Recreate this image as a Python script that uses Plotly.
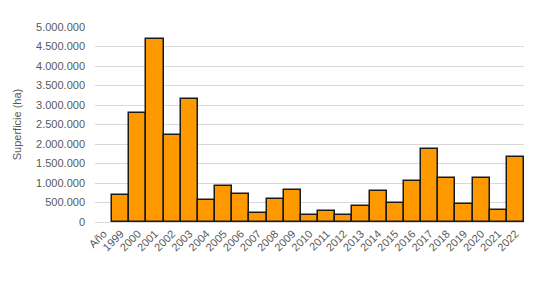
import plotly.graph_objects as go

categories = ["Año", "1999", "2000", "2001", "2002", "2003", "2004", "2005", "2006",
              "2007", "2008", "2009", "2010", "2011", "2012", "2013", "2014", "2015",
              "2016", "2017", "2018", "2019", "2020", "2021", "2022"]
superficie = [None, 700000, 2800000, 4680000, 2240000, 3150000, 560000, 920000, 730000,
              240000, 600000, 830000, 190000, 280000, 170000, 420000, 790000, 480000,
              1060000, 1870000, 1130000, 460000, 1130000, 320000, 1670000]
y_ticks = [0, 500000, 1000000, 1500000, 2000000, 2500000, 3000000, 3500000,
           4000000, 4500000, 5000000]

fig = go.Figure(go.Bar(
    x=categories, y=superficie,
    marker=dict(color="#FF9900", line=dict(color="#1a1a1a", width=1.5)),
))

font = dict(family="Liberation Sans, Arial", size=11, color="#595959")
fig.update_layout(
    width=536, height=286,
    margin=dict(l=95, r=12, t=27, b=64),
    paper_bgcolor="white", plot_bgcolor="white",
    bargap=0, showlegend=False,
    separators=",.",
    font=font,
    xaxis=dict(type="category", tickangle=-45, tickfont=font,
               showgrid=False, showline=True, linecolor="#D9D9D9", linewidth=1,
               ticks="", fixedrange=True),
    yaxis=dict(range=[0, 5000000], tickvals=y_ticks, tickformat=",d",
               tickfont=font, showgrid=True, gridcolor="#D9D9D9", gridwidth=1,
               zeroline=False, showline=False, ticks="", ticklabelstandoff=9,
               title=dict(text="Superficie (ha)", font=font, standoff=12)),
)

fig.write_html("out.html")
